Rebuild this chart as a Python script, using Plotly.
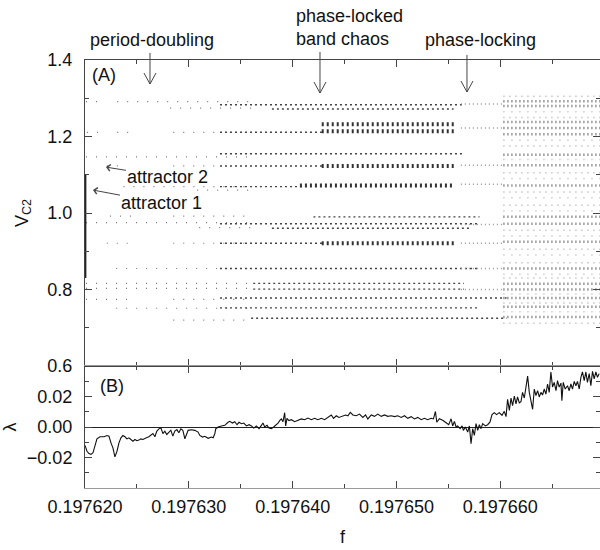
import plotly.graph_objects as go
from plotly.subplots import make_subplots

FONT = "Liberation Sans, Arial, Helvetica, sans-serif"

# ---------------- panel (B): Lyapunov exponent lambda(f) ----------------
F_LAMBDA = [
    0.19762000, 0.19762019, 0.19762038, 0.19762058, 0.19762077, 0.19762096, 0.19762115, 0.19762144,
    0.19762183, 0.19762212, 0.19762231, 0.19762250, 0.19762269, 0.19762288, 0.19762308, 0.19762327,
    0.19762346, 0.19762365, 0.19762385, 0.19762404, 0.19762423, 0.19762442, 0.19762462, 0.19762481,
    0.19762500, 0.19762519, 0.19762538, 0.19762558, 0.19762577, 0.19762596, 0.19762615, 0.19762635,
    0.19762654, 0.19762673, 0.19762692, 0.19762712, 0.19762731, 0.19762750, 0.19762769, 0.19762788,
    0.19762808, 0.19762827, 0.19762846, 0.19762865, 0.19762885, 0.19762904, 0.19762923, 0.19762942,
    0.19762962, 0.19762978, 0.19762993, 0.19763026, 0.19763058, 0.19763089, 0.19763106, 0.19763132,
    0.19763154, 0.19763186, 0.19763218, 0.19763234, 0.19763250, 0.19763260, 0.19763282, 0.19763314,
    0.19763346, 0.19763378, 0.19763394, 0.19763420, 0.19763442, 0.19763464, 0.19763484, 0.19763507,
    0.19763529, 0.19763555, 0.19763580, 0.19763603, 0.19763625, 0.19763651, 0.19763676, 0.19763699,
    0.19763714, 0.19763731, 0.19763753, 0.19763772, 0.19763795, 0.19763817, 0.19763837, 0.19763859,
    0.19763875, 0.19763891, 0.19763907, 0.19763923, 0.19763933, 0.19763945, 0.19763964, 0.19763988,
    0.19764019, 0.19764051, 0.19764084, 0.19764115, 0.19764147, 0.19764180, 0.19764212, 0.19764243,
    0.19764276, 0.19764308, 0.19764339, 0.19764372, 0.19764394, 0.19764420, 0.19764445, 0.19764478,
    0.19764510, 0.19764532, 0.19764555, 0.19764580, 0.19764612, 0.19764644, 0.19764676, 0.19764702,
    0.19764724, 0.19764757, 0.19764788, 0.19764820, 0.19764853, 0.19764885, 0.19764916, 0.19764949,
    0.19764981, 0.19765013, 0.19765045, 0.19765077, 0.19765109, 0.19765141, 0.19765173, 0.19765205,
    0.19765238, 0.19765269, 0.19765301, 0.19765334, 0.19765356, 0.19765375, 0.19765388, 0.19765413,
    0.19765445, 0.19765478, 0.19765503, 0.19765526, 0.19765541, 0.19765558, 0.19765574, 0.19765589,
    0.19765613, 0.19765632, 0.19765644, 0.19765663, 0.19765686, 0.19765702, 0.19765718, 0.19765734,
    0.19765750, 0.19765766, 0.19765782, 0.19765798, 0.19765814, 0.19765830, 0.19765856, 0.19765878,
    0.19765901, 0.19765920, 0.19765942, 0.19765964, 0.19765990, 0.19766016, 0.19766038, 0.19766055,
    0.19766070, 0.19766087, 0.19766103, 0.19766118, 0.19766135, 0.19766151, 0.19766166, 0.19766183,
    0.19766199, 0.19766214, 0.19766231, 0.19766247, 0.19766263, 0.19766279, 0.19766295, 0.19766311,
    0.19766327, 0.19766343, 0.19766359, 0.19766375, 0.19766391, 0.19766407, 0.19766423, 0.19766439,
    0.19766455, 0.19766471, 0.19766487, 0.19766503, 0.19766519, 0.19766536, 0.19766551, 0.19766567,
    0.19766584, 0.19766593, 0.19766606, 0.19766625, 0.19766647, 0.19766663, 0.19766680, 0.19766695,
    0.19766712, 0.19766728, 0.19766743, 0.19766760, 0.19766776, 0.19766791, 0.19766808, 0.19766824,
    0.19766839, 0.19766856, 0.19766872, 0.19766888, 0.19766904, 0.19766920, 0.19766936, 0.19766952,
]
LAMBDA = [
    -0.0120, -0.0159, -0.0174, -0.0180, -0.0169, -0.0115, -0.0078, -0.0064,
    -0.0064, -0.0056, -0.0060, -0.0104, -0.0137, -0.0196, -0.0159, -0.0104,
    -0.0071, -0.0056, -0.0064, -0.0078, -0.0071, -0.0082, -0.0093, -0.0082,
    -0.0090, -0.0086, -0.0078, -0.0082, -0.0074, -0.0069, -0.0064, -0.0056,
    -0.0043, -0.0064, -0.0027, -0.0012, -0.0005, -0.0043, -0.0027, -0.0049,
    -0.0034, -0.0021, -0.0060, -0.0027, -0.0017, -0.0038, -0.0012, -0.0021,
    -0.0077, -0.0044, -0.0022, -0.0018, -0.0022, -0.0033, -0.0055, -0.0066,
    -0.0061, -0.0074, -0.0066, -0.0070, -0.0044, -0.0011, 0.0000, 0.0007,
    0.0011, 0.0031, 0.0037, 0.0026, 0.0035, 0.0015, 0.0031, 0.0022,
    0.0026, 0.0007, 0.0015, 0.0007, -0.0007, 0.0007, -0.0011, 0.0011,
    0.0026, 0.0000, 0.0011, -0.0007, -0.0011, 0.0000, 0.0011, 0.0026,
    0.0042, 0.0053, 0.0035, 0.0094, 0.0007, 0.0057, 0.0042, 0.0048,
    0.0035, 0.0042, 0.0053, 0.0048, 0.0059, 0.0048, 0.0057, 0.0048,
    0.0057, 0.0048, 0.0063, 0.0079, 0.0057, 0.0074, 0.0063, 0.0070,
    0.0079, 0.0074, 0.0096, 0.0079, 0.0074, 0.0085, 0.0063, 0.0079,
    0.0053, 0.0079, 0.0070, 0.0085, 0.0070, 0.0079, 0.0070, 0.0074,
    0.0068, 0.0074, 0.0063, 0.0074, 0.0057, 0.0068, 0.0053, 0.0063,
    0.0048, 0.0057, 0.0048, 0.0057, 0.0053, 0.0102, 0.0031, 0.0054,
    0.0044, 0.0028, 0.0015, 0.0054, 0.0007, 0.0037, 0.0000, 0.0007,
    -0.0011, 0.0007, -0.0022, 0.0000, -0.0033, 0.0007, -0.0109, -0.0011,
    -0.0055, 0.0022, -0.0022, 0.0015, -0.0011, 0.0022, 0.0007, 0.0015,
    0.0033, 0.0081, 0.0094, 0.0081, 0.0094, 0.0077, 0.0103, 0.0068,
    0.0181, 0.0109, 0.0190, 0.0140, 0.0203, 0.0151, 0.0197, 0.0158,
    0.0166, 0.0227, 0.0190, 0.0262, 0.0334, 0.0227, 0.0173, 0.0116,
    0.0249, 0.0206, 0.0238, 0.0197, 0.0227, 0.0210, 0.0249, 0.0216,
    0.0282, 0.0227, 0.0361, 0.0262, 0.0293, 0.0238, 0.0304, 0.0262,
    0.0288, 0.0173, 0.0293, 0.0249, 0.0271, 0.0238, 0.0282, 0.0249,
    0.0299, 0.0271, 0.0299, 0.0249, 0.0326, 0.0361, 0.0304, 0.0361,
    0.0293, 0.0350, 0.0271, 0.0365, 0.0315, 0.0361, 0.0326, 0.0350,
]

# ---------------- panel (A): bifurcation bands of V_C2 (level, f-start, f-end) ----------------
# period-doubling region: sparse point bands
SPARSE_V = [1.291, 1.291, 1.274, 1.211, 1.211, 1.211, 1.147, 1.123, 1.123, 1.069, 1.060, 0.992,
            0.992, 0.975, 0.962, 0.921, 0.921, 0.855, 0.816, 0.803, 0.774, 0.774, 0.751, 0.720]
SPARSE_F0 = [0.1976201, 0.1976231, 0.1976282, 0.1976202, 0.1976231, 0.1976285, 0.1976201, 0.1976221,
             0.1976285, 0.1976237, 0.1976308, 0.1976224, 0.1976285, 0.1976201, 0.1976310, 0.1976221,
             0.1976285, 0.1976230, 0.1976201, 0.1976201, 0.1976201, 0.1976285, 0.1976230, 0.1976285]
SPARSE_F1 = [0.1976214, 0.1976362, 0.1976362, 0.1976214, 0.1976246, 0.1976330, 0.1976362, 0.1976232,
             0.1976330, 0.1976362, 0.1976362, 0.1976246, 0.1976362, 0.1976362, 0.1976362, 0.1976246,
             0.1976362, 0.1976362, 0.1976362, 0.1976362, 0.1976246, 0.1976362, 0.1976362, 0.1976362]

# phase-locked band chaos: medium-density bands
MED_V = [1.283, 1.272, 1.211, 1.155, 1.123, 1.069, 0.990, 0.972, 0.960, 0.921, 0.855,
         0.816, 0.801, 0.778, 0.752, 0.725]
MED_F0 = [0.1976330, 0.1976380, 0.1976330, 0.1976330, 0.1976330, 0.1976330, 0.1976420, 0.1976330,
          0.1976380, 0.1976330, 0.1976330, 0.1976362, 0.1976362, 0.1976330, 0.1976330, 0.1976360]
MED_F1 = [0.1976565, 0.1976555, 0.1976430, 0.1976565, 0.1976430, 0.1976410, 0.1976580, 0.1976580,
          0.1976570, 0.1976430, 0.1976580, 0.1976565, 0.1976565, 0.1976606, 0.1976580, 0.1976606]

# phase-locked band chaos: heavy clustered blocks
HEAVY_V = [1.232, 1.214, 1.123, 1.072, 0.921]
HEAVY_F0 = [0.1976428, 0.1976428, 0.1976428, 0.1976407, 0.1976428]
HEAVY_F1 = [0.1976556, 0.1976556, 0.1976556, 0.1976555, 0.1976556]

# transition before phase-locking: light bands
TRANS_V = [1.285, 1.222, 1.125, 1.075, 0.970, 0.921, 0.855, 0.800]
TRANS_F = [0.1976562, 0.1976604]

# chaotic region beyond phase-locking
CHAOS_F = [0.1976603, 0.1976697]
CHAOS_DARK_V = [1.292, 1.280, 1.238, 1.222, 1.206, 1.152, 1.125, 1.072, 0.990, 0.972,
                0.925, 0.855, 0.815, 0.800, 0.778, 0.755, 0.728]
CHAOS_LIGHT_A_V = [1.305, 1.250, 1.175, 1.105, 1.055, 1.020, 0.955, 0.905, 0.870, 0.830, 0.765, 0.712]
CHAOS_LIGHT_B_V = [1.265, 1.190, 1.140, 1.090, 1.040, 1.005, 0.940, 0.890, 0.840, 0.788, 0.742]

# attractor points at the left edge
ATTR_F = [0.19762006, 0.19762006]
ATTR_V = [0.83, 1.10]

X_RANGE = [0.19762, 0.1976696]
Y_TOP_RANGE = [0.6, 1.4]
Y_BOT_RANGE = [-0.04, 0.04]
LAMBDA_TICKS = [-0.02, 0.0, 0.02]


def segments(levels, f0s, f1s):
    xs, ys = [], []
    for v, a, b in zip(levels, f0s, f1s):
        xs += [a, b, None]
        ys += [v, v, None]
    return xs, ys


fig = make_subplots(rows=2, cols=1, shared_xaxes=True, vertical_spacing=0,
                    row_heights=[0.715, 0.285])


def add_band(levels, f0s, f1s, color, width, dash):
    xs, ys = segments(levels, f0s, f1s)
    fig.add_trace(go.Scatter(x=xs, y=ys, mode="lines",
                             line=dict(color=color, width=width, dash=dash),
                             hoverinfo="skip", showlegend=False), row=1, col=1)


add_band(SPARSE_V, SPARSE_F0, SPARSE_F1, "#777777", 1.2, "1px,9px")
add_band(MED_V, MED_F0, MED_F1, "#444444", 1.4, "2px,3px")
add_band(HEAVY_V, HEAVY_F0, HEAVY_F1, "#333333", 4, "2px,3px")
add_band(TRANS_V, [TRANS_F[0]] * len(TRANS_V), [TRANS_F[1]] * len(TRANS_V), "#999999", 1.5, "1px,3px")
add_band(CHAOS_DARK_V, [CHAOS_F[0]] * len(CHAOS_DARK_V), [CHAOS_F[1]] * len(CHAOS_DARK_V),
         "#666666", 2.5, "1px,3px")
add_band(CHAOS_LIGHT_A_V, [CHAOS_F[0]] * len(CHAOS_LIGHT_A_V), [CHAOS_F[1]] * len(CHAOS_LIGHT_A_V),
         "#aaaaaa", 1.5, "1px,5px")
add_band(CHAOS_LIGHT_B_V, [CHAOS_F[0]] * len(CHAOS_LIGHT_B_V), [CHAOS_F[1]] * len(CHAOS_LIGHT_B_V),
         "#b5b5b5", 1.5, "1px,7px")

fig.add_trace(go.Scatter(x=ATTR_F, y=ATTR_V, mode="lines", line=dict(color="#222", width=1.5),
                         hoverinfo="skip", showlegend=False), row=1, col=1)

fig.add_trace(go.Scatter(x=F_LAMBDA, y=LAMBDA, mode="lines",
                         line=dict(color="#111111", width=1.1),
                         hoverinfo="skip", showlegend=False), row=2, col=1)

axis_common = dict(showline=True, linecolor="#444", linewidth=1, mirror="ticks",
                   ticks="inside", ticklen=7, tickcolor="#444", tickwidth=1,
                   showgrid=False, zeroline=False,
                   tickfont=dict(family=FONT, size=18, color="#111"))

fig.update_xaxes(**axis_common)
fig.update_yaxes(**axis_common)

fig.update_xaxes(range=X_RANGE, tick0=0.19762, dtick=1e-5, tickformat=".6f",
                 minor=dict(tick0=0.19762, dtick=5e-6, ticks="inside", ticklen=4, tickcolor="#444"))
fig.update_xaxes(showticklabels=False, row=1, col=1)
fig.update_xaxes(showticklabels=True, ticklabelstandoff=2, linecolor="#999", row=2, col=1,
                 title=dict(text="f", font=dict(family=FONT, size=18, color="#111"), standoff=14))

fig.update_yaxes(range=Y_TOP_RANGE, tick0=0.6, dtick=0.2, tickformat=".1f",
                 minor=dict(tick0=0.6, dtick=0.1, ticks="inside", ticklen=4, tickcolor="#444"),
                 ticklabelstandoff=8,
                 title=dict(text="V<sub>C2</sub>", font=dict(family=FONT, size=18, color="#111"),
                            standoff=14),
                 row=1, col=1)
fig.update_yaxes(range=Y_BOT_RANGE, tickmode="array", tickvals=LAMBDA_TICKS, tickformat=".2f",
                 minor=dict(tickmode="linear", tick0=0, dtick=0.01, ticks="inside", ticklen=4,
                            tickcolor="#444"),
                 zeroline=True, zerolinecolor="#222", zerolinewidth=1,
                 ticklabelstandoff=8,
                 title=dict(text="λ", font=dict(family=FONT, size=18, color="#111"), standoff=8),
                 row=2, col=1)

ann_font = dict(family=FONT, size=18, color="#111")
annotations = [
    dict(x=0.1301, y=1.0467, xref="paper", yref="paper", text="period-doubling",
         showarrow=False, font=ann_font, xanchor="center", yanchor="middle"),
    dict(x=0.4060, y=1.0771, xref="paper", yref="paper", text="phase-locked<br>band chaos",
         showarrow=False, font=ann_font, xanchor="left", yanchor="middle", align="left"),
    dict(x=0.7670, y=1.0467, xref="paper", yref="paper", text="phase-locking",
         showarrow=False, font=ann_font, xanchor="center", yanchor="middle"),
    dict(x=0.19762202, y=1.120, xref="x", yref="y", text="attractor 2", showarrow=True,
         ax=62, ay=10, arrowhead=4, arrowsize=1.3, arrowwidth=1, arrowcolor="#444", font=ann_font),
    dict(x=0.19762077, y=1.060, xref="x", yref="y", text="attractor 1", showarrow=True,
         ax=69, ay=13, arrowhead=4, arrowsize=1.3, arrowwidth=1, arrowcolor="#444", font=ann_font),
    dict(x=0.19762183, y=1.361, xref="x", yref="y", text="(A)", showarrow=False, font=ann_font),
    dict(x=0.19762260, y=0.0266, xref="x2", yref="y2", text="(B)", showarrow=False, font=ann_font),
]

# thin open-V arrows pointing at the three regimes (paper coordinates of the plot area)
ARROWS = [  # (x, y_tail, y_tip)
    (0.1262, 1.0164, 0.9439),
    (0.4563, 1.0187, 0.9229),
    (0.7417, 1.0117, 0.9252),
]
shapes = []
for ax_, yt, yp in ARROWS:
    shapes.append(dict(type="line", xref="paper", yref="paper", x0=ax_, x1=ax_, y0=yt, y1=yp,
                       line=dict(color="#444", width=1)))
    shapes.append(dict(type="path", xref="paper", yref="paper",
                       path=f"M {ax_ - 0.0117} {yp + 0.0257} L {ax_} {yp} L {ax_ + 0.0117} {yp + 0.0257}",
                       line=dict(color="#444", width=1)))

fig.update_layout(width=600, height=550, margin=dict(l=85, r=0, t=60, b=62),
                  plot_bgcolor="white", paper_bgcolor="white",
                  font=dict(family=FONT, size=18, color="#111"),
                  showlegend=False, annotations=annotations, shapes=shapes)

fig.write_html("out.html")
